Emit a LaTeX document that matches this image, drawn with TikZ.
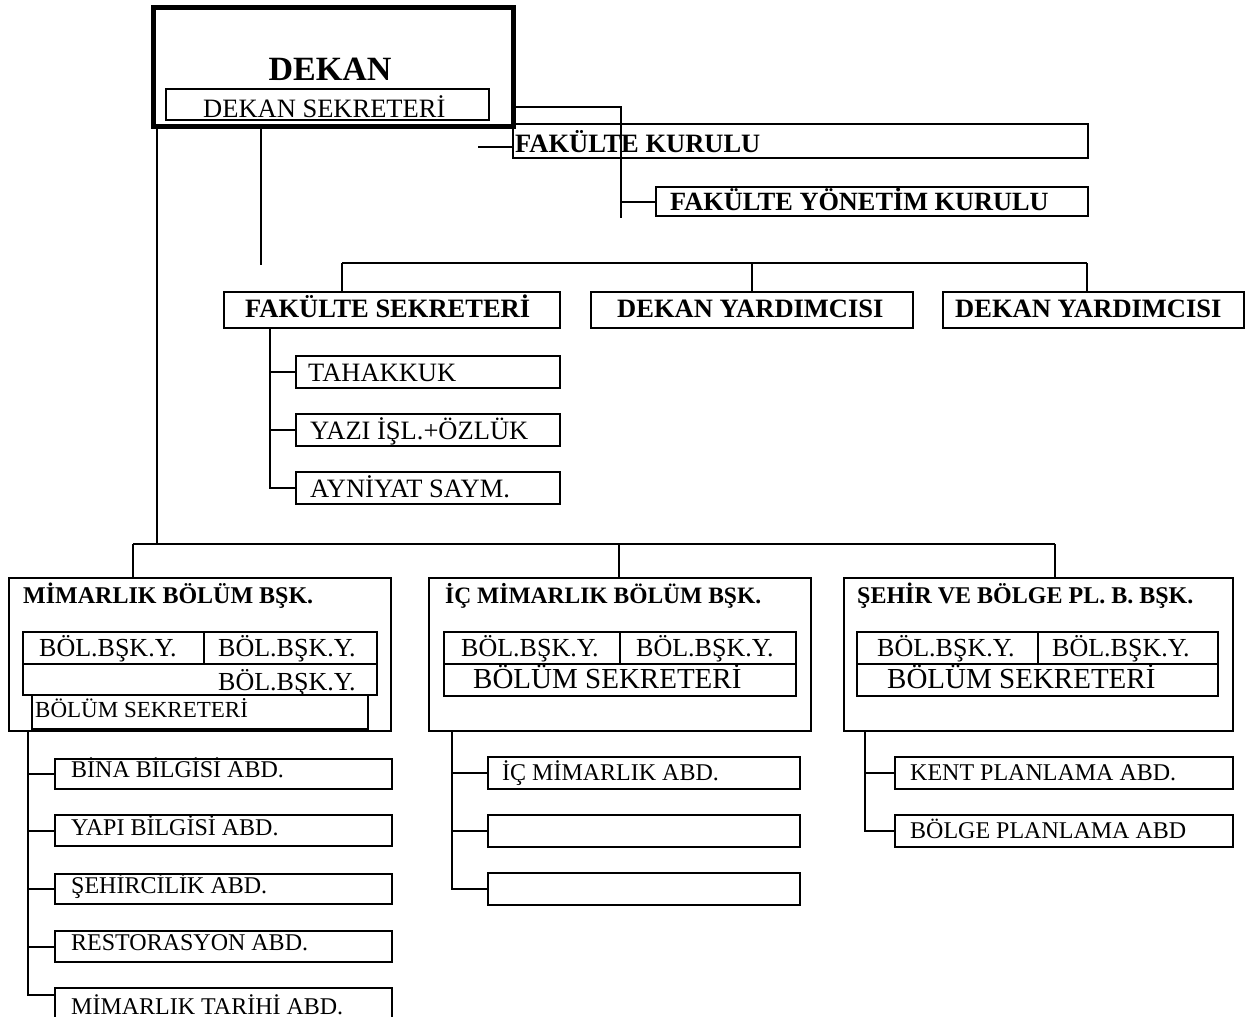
\documentclass[tikz,border=0pt]{standalone}
\usepackage{fontspec}
\setmainfont{Liberation Serif}
\newcommand{\fs}[1]{\fontsize{#1}{#1}\selectfont}
\begin{document}
\begin{tikzpicture}[x=1pt,y=-1pt,
  box/.style={draw, line width=2pt, inner sep=0pt, anchor=north west},
  sz/.style 2 args={minimum width=#1pt, minimum height=#2pt},
  lbl/.style={inner sep=0pt, anchor=base west},
  ln/.style={line width=2pt}]
\useasboundingbox (0,0) rectangle (1245,1017);
\clip (0,0) rectangle (1245,1017);

% ---- top ----
\node[box, line width=5pt, sz={360}{119}] (dekan) at (150.5,4.5) {};
\node[box, sz={323}{31}] (dsek) at (165,88) {};
\node[lbl, anchor=base, font=\fs{34}\bfseries] (tdekan) at (330,80) {DEKAN};
\node[lbl, font=\fs{26.5}] (tdsek) at (203,117) {DEKAN SEKRETERİ};

\node[box, sz={575}{34}] (fk) at (511.5,122.5) {};
\node[lbl, font=\fs{26.5}\bfseries] (tfk) at (515,152) {FAKÜLTE KURULU};
\node[box, sz={432}{29}] (fyk) at (655,186) {};
\node[lbl, font=\fs{26.3}\bfseries] (tfyk) at (670,210) {FAKÜLTE YÖNETİM KURULU};

\coordinate (fkstub) at (478,147);
\draw[ln] (fkstub) -- (fkstub -| fk.west);
\coordinate (c1) at (621,107);
\coordinate (c2) at (621,218);
\draw[ln] (c1 -| dekan.east) -- (c1) -- (c2);
\draw[ln] (c1 |- fyk.west) -- (fyk.west);

% ---- middle row ----
\node[box, sz={336}{36}] (fsek) at (223,291) {};
\node[lbl, font=\fs{26.5}\bfseries] (tfsek) at (245,317) {FAKÜLTE SEKRETERİ};
\node[box, sz={322}{36}] (dy1) at (590,291) {};
\node[lbl, font=\fs{26.5}\bfseries] (tdy1) at (617,317) {DEKAN YARDIMCISI};
\node[box, sz={301}{36}] (dy2) at (942,291) {};
\node[lbl, font=\fs{26.5}\bfseries] (tdy2) at (955,317) {DEKAN YARDIMCISI};

\coordinate (free) at (261,265);
\draw[ln] (dekan.south -| free) -- (free);
\coordinate (m1) at (342,263);
\coordinate (m2) at (752,263);
\coordinate (m3) at (1087,263);
\draw[ln] (m1) -- (m3);
\draw[ln] (m1) -- (m1 |- fsek.north);
\draw[ln] (m2) -- (m2 |- dy1.north);
\draw[ln] (m3) -- (m3 |- dy2.north);

\node[box, sz={264}{32}] (tah) at (295,355) {};
\node[lbl, font=\fs{26.5}] (ttah) at (308,381) {TAHAKKUK};
\node[box, sz={264}{32}] (yazi) at (295,413) {};
\node[lbl, font=\fs{26.5}] (tyazi) at (310,439) {YAZI İŞL.+ÖZLÜK};
\node[box, sz={264}{32}] (ayn) at (295,471) {};
\node[lbl, font=\fs{26.5}] (tayn) at (310,497) {AYNİYAT SAYM.};

\coordinate (fsv) at (270,0);
\draw[ln] (fsek.south -| fsv) |- (ayn.west);
\draw[ln] (fsv |- tah.west) -- (tah.west);
\draw[ln] (fsv |- yazi.west) -- (yazi.west);

% ---- bottom bus ----
\coordinate (b1) at (157,544);
\coordinate (bL) at (133,544);
\coordinate (bM) at (619,544);
\coordinate (bR) at (1055,544);
\draw[ln] (dekan.south -| b1) -- (b1);
\draw[ln] (bL) -- (bR);

% ---- MIMARLIK ----
\node[box, sz={382}{153}] (mim) at (8,577) {};
\draw[ln] (bL) -- (bL |- mim.north);
\node[lbl, font=\fs{24}\bfseries] (tmim) at (23,603) {MİMARLIK BÖLÜM BŞK.};
\node[box, sz={181}{32}] (mimA) at (22,631) {};
\node[box, sz={173}{32}] (mimB) at (203,631) {};
\node[box, sz={354}{31}] (mimC) at (22,663) {};
\node[lbl, font=\fs{26}] (tmimA) at (39,656) {BÖL.BŞK.Y.};
\node[lbl, font=\fs{26}] (tmimB) at (218,656) {BÖL.BŞK.Y.};
\node[lbl, font=\fs{26}] (tmimC) at (218,690) {BÖL.BŞK.Y.};
\node[box, sz={336}{34}] (mimS) at (31,694) {};
\node[lbl, font=\fs{23}] (tmimS) at (35,717) {BÖLÜM SEKRETERİ};

\node[box, sz={337}{30}] (bina) at (54,758) {};
\node[lbl, font=\fs{24}] (tbina) at (71,777) {BİNA BİLGİSİ ABD.};
\node[box, sz={337}{31}] (yapi) at (54,814) {};
\node[lbl, font=\fs{24}] (tyapi) at (71,835) {YAPI BİLGİSİ ABD.};
\node[box, sz={337}{30}] (sehirc) at (54,873) {};
\node[lbl, font=\fs{24}] (tsehirc) at (71,893) {ŞEHİRCİLİK ABD.};
\node[box, sz={337}{31}] (rest) at (54,930) {};
\node[lbl, font=\fs{24}] (trest) at (71,950) {RESTORASYON ABD.};
\node[box, sz={337}{45}] (tarih) at (54,987) {};
\node[lbl, font=\fs{24}] (ttarih) at (71,1014) {MİMARLIK TARİHİ ABD.};

\coordinate (mv) at (28,995);
\draw[ln] (mim.south -| mv) -- (mv) -- (mv -| tarih.west);
\draw[ln] (mv |- bina.west) -- (bina.west);
\draw[ln] (mv |- yapi.west) -- (yapi.west);
\draw[ln] (mv |- sehirc.west) -- (sehirc.west);
\draw[ln] (mv |- rest.west) -- (rest.west);

% ---- IC MIMARLIK ----
\node[box, sz={382}{153}] (ic) at (428,577) {};
\draw[ln] (bM) -- (bM |- ic.north);
\node[lbl, font=\fs{23.5}\bfseries] (tic) at (445,603) {İÇ MİMARLIK BÖLÜM BŞK.};
\node[box, sz={176}{32}] (icA) at (443,631) {};
\node[box, sz={176}{32}] (icB) at (619,631) {};
\node[box, sz={352}{32}] (icC) at (443,663) {};
\node[lbl, font=\fs{26}] (ticA) at (461,656) {BÖL.BŞK.Y.};
\node[lbl, font=\fs{26}] (ticB) at (636,656) {BÖL.BŞK.Y.};
\node[lbl, font=\fs{29}] (ticC) at (473,688) {BÖLÜM SEKRETERİ};

\node[box, sz={312}{32}] (icabd) at (487,756) {};
\node[lbl, font=\fs{24}] (ticabd) at (502,780) {İÇ MİMARLIK ABD.};
\node[box, sz={312}{32}] (ice1) at (487,814) {};
\node[box, sz={312}{32}] (ice2) at (487,872) {};
\coordinate (iv) at (452,0);
\draw[ln] (ic.south -| iv) |- (ice2.west);
\draw[ln] (iv |- icabd.west) -- (icabd.west);
\draw[ln] (iv |- ice1.west) -- (ice1.west);

% ---- SEHIR ----
\node[box, sz={389}{153}] (seh) at (843,577) {};
\draw[ln] (bR) -- (bR |- seh.north);
\node[lbl, font=\fs{24}\bfseries] (tseh) at (857,603) {ŞEHİR VE BÖLGE PL. B. BŞK.};
\node[box, sz={181}{32}] (sehA) at (856,631) {};
\node[box, sz={180}{32}] (sehB) at (1037,631) {};
\node[box, sz={361}{32}] (sehC) at (856,663) {};
\node[lbl, font=\fs{26}] (tsehA) at (877,656) {BÖL.BŞK.Y.};
\node[lbl, font=\fs{26}] (tsehB) at (1052,656) {BÖL.BŞK.Y.};
\node[lbl, font=\fs{29}] (tsehC) at (887,688) {BÖLÜM SEKRETERİ};

\node[box, sz={338}{32}] (kent) at (894,756) {};
\node[lbl, font=\fs{24}] (tkent) at (910,780) {KENT PLANLAMA ABD.};
\node[box, sz={338}{32}] (bolge) at (894,814) {};
\node[lbl, font=\fs{24}] (tbolge) at (910,838) {BÖLGE PLANLAMA ABD};
\coordinate (sv) at (865,0);
\draw[ln] (seh.south -| sv) |- (bolge.west);
\draw[ln] (sv |- kent.west) -- (kent.west);
\end{tikzpicture}
\end{document}
